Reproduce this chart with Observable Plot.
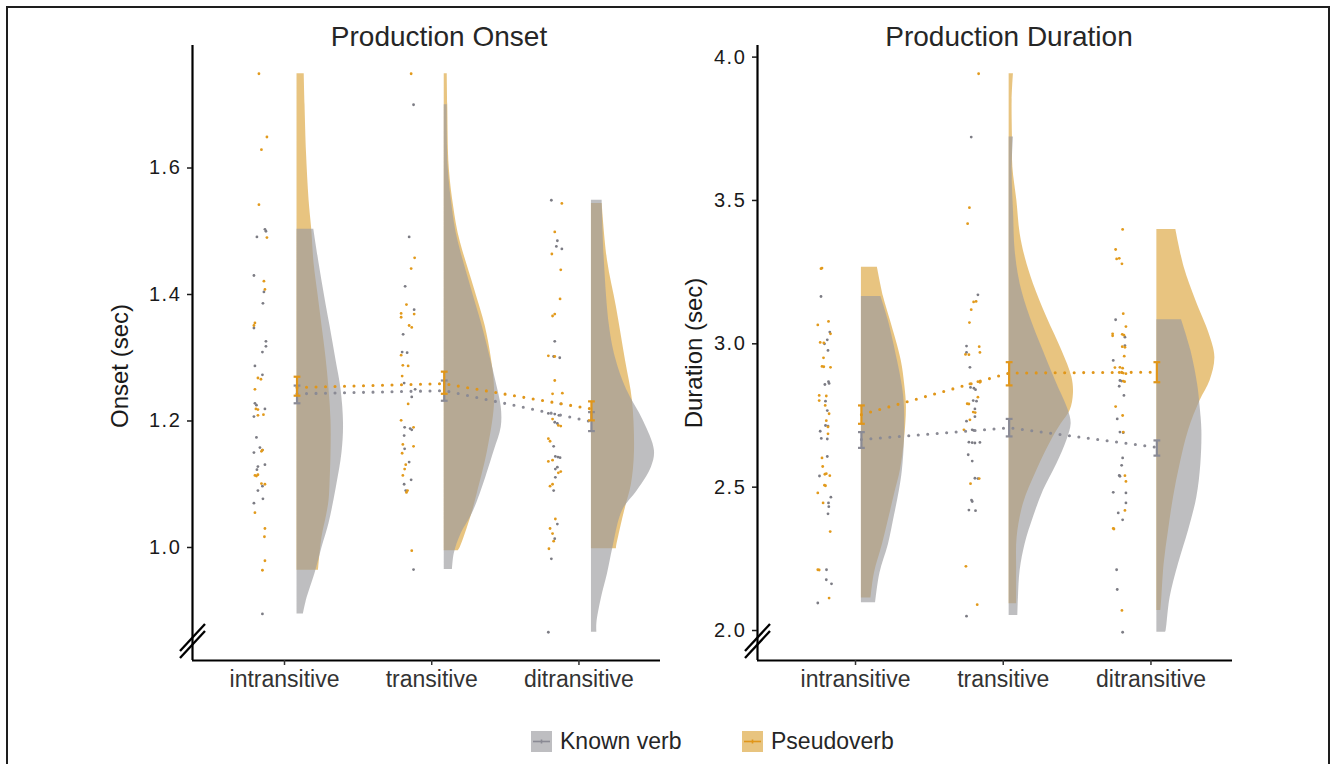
<!DOCTYPE html>
<html><head><meta charset="utf-8">
<script src="https://cdn.jsdelivr.net/npm/d3@7"></script>
<script src="https://cdn.jsdelivr.net/npm/@observablehq/plot@0.6"></script>
<style>
html,body{margin:0;padding:0;background:#fff;overflow:hidden;}
#fig{position:relative;width:1335px;height:764px;font-family:"Liberation Sans",Arial,Helvetica,sans-serif;overflow:hidden;}
#border{position:absolute;left:6px;top:6px;width:1324px;height:820px;border:2px solid #1e1e1e;box-sizing:border-box;}
.panel{position:absolute;top:0;}
.title{position:absolute;top:23px;width:400px;font-size:28px;line-height:28px;color:#262626;text-align:center;white-space:nowrap;}
.leg{position:absolute;top:729px;height:24px;display:flex;align-items:center;font-size:23px;color:#262626;white-space:nowrap;}
.leg svg{margin-right:8px;}
</style></head>
<body>
<div id="fig">
  <div id="border"></div>
  <div id="left" class="panel" style="left:0px"></div>
  <div id="right" class="panel" style="left:670px"></div>
  <div class="title" style="left:239px">Production Onset</div>
  <div class="title" style="left:809px">Production Duration</div>
  <div id="legend"></div>
</div>
<script>
// ---------- data ----------
const categories = ["intransitive", "transitive", "ditransitive"];
const groups = ["Known verb", "Pseudoverb"];

// jittered raw points: [category index, value, horizontal jitter]
const onsetKnownDots = [
  [0,1.503,5],[0,1.500,6],[0,1.491,-3],[0,1.430,-6],[0,1.404,4],[0,1.386,3],[0,1.347,-6],[0,1.326,6],[0,1.318,6],[0,1.309,2.5],[0,1.287,-5],[0,1.273,2.5],[0,1.228,-5],[0,1.225,-3.5],[0,1.219,5],[0,1.207,-6],[0,1.174,-3.5],[0,1.158,0],[0,1.154,2.5],[0,1.150,-6],[0,1.131,5],[0,1.128,-2],[0,1.123,-3],[0,1.097,2.5],[0,1.090,-2],[0,1.077,3],[0,1.070,-6],[0,0.895,2.5],
  [1,1.700,6.4],[1,1.491,2],[1,1.413,-2],[1,1.376,7],[1,1.337,-4],[1,1.309,-5],[1,1.308,0],[1,1.260,-3],[1,1.250,8],[1,1.238,4.6],[1,1.190,-2.5],[1,1.188,3],[1,1.186,4.6],[1,1.177,-3],[1,1.156,-2.5],[1,1.135,2],[1,1.107,4],[1,1.100,-3],[1,1.090,-1.4],[1,0.965,6.4],
  [2,1.549,-3],[2,1.485,3],[2,1.476,2],[2,1.472,7.5],[2,1.326,0.4],[2,1.302,-0.7],[2,1.300,5.4],[2,1.227,6.4],[2,1.212,-6],[2,1.211,0.4],[2,1.209,4.6],[2,1.198,0.4],[2,1.196,3],[2,1.160,-0.7],[2,1.144,1],[2,1.143,3.6],[2,1.142,5.7],[2,1.127,3],[2,1.124,1],[2,1.111,1],[2,1.090,-0.7],[2,1.037,3],[2,1.014,0.4],[2,0.982,-3],[2,0.866,-6]
];
const onsetPseudoDots = [
  [0,1.749,-1],[0,1.649,7],[0,1.629,1.5],[0,1.542,-1],[0,1.490,7],[0,1.421,4],[0,1.408,5],[0,1.355,-5],[0,1.351,-6],[0,1.268,-2],[0,1.266,1],[0,1.250,-5],[0,1.219,-4],[0,1.218,-2],[0,1.210,3.5],[0,1.209,-2],[0,1.154,2.5],[0,1.152,1.5],[0,1.114,-5],[0,1.115,-2],[0,1.113,-3.5],[0,1.101,1.5],[0,1.100,5],[0,1.055,-5],[0,1.030,5],[0,1.017,4.5],[0,0.979,5],[0,0.964,2.5],
  [1,1.749,4],[1,1.458,7.5],[1,1.441,4],[1,1.384,-0.7],[1,1.370,-6],[1,1.369,7],[1,1.364,-6],[1,1.351,2],[1,1.348,4.6],[1,1.304,-6],[1,1.288,-4.3],[1,1.287,1],[1,1.271,-5],[1,1.227,1],[1,1.201,-6],[1,1.190,6.4],[1,1.163,-4.3],[1,1.160,6.4],[1,1.149,-5],[1,1.131,-1.4],[1,1.124,-2.5],[1,1.114,-4.3],[1,1.090,0.4],[1,1.087,-0.7],[1,0.995,4.6],
  [2,1.544,7.5],[2,1.499,0.4],[2,1.464,-2.5],[2,1.439,6.4],[2,1.393,5.7],[2,1.369,0.4],[2,1.366,-1.8],[2,1.303,-6],[2,1.302,0.4],[2,1.264,0.4],[2,1.243,-1.8],[2,1.244,8],[2,1.203,-1.8],[2,1.193,4],[2,1.192,6.4],[2,1.172,-6],[2,1.168,-4.3],[2,1.138,-1.8],[2,1.136,-6],[2,1.120,6.4],[2,1.118,4],[2,1.100,-1.8],[2,1.097,-4.3],[2,1.045,1],[2,1.030,-4.3],[2,1.022,-1.8],[2,1.010,-0.7],[2,0.998,-5.4]
];
const durKnownDots = [
  [0,3.165,-3.5],[0,3.041,5.3],[0,3.014,2.8],[0,3.000,0],[0,2.977,3.5],[0,2.868,4],[0,2.862,4.6],[0,2.858,0.4],[0,2.800,1],[0,2.767,2.8],[0,2.715,1],[0,2.713,3.5],[0,2.695,-4.3],[0,2.670,-3.2],[0,2.668,2.8],[0,2.607,2.8],[0,2.539,-5],[0,2.465,6.4],[0,2.445,4],[0,2.432,4.3],[0,2.407,3.5],[0,2.212,2],[0,2.177,1.8],[0,2.163,7],[0,2.096,-6.7],
  [1,3.721,-1],[1,3.171,5.7],[1,2.992,-5.7],[1,2.970,-5.7],[1,2.918,-2.3],[1,2.848,-1.7],[1,2.845,1.7],[1,2.840,3.3],[1,2.802,1],[1,2.800,4.3],[1,2.773,2.7],[1,2.746,2.7],[1,2.730,-5.7],[1,2.700,0],[1,2.698,1.7],[1,2.657,-3.3],[1,2.655,0],[1,2.654,2.7],[1,2.656,7.7],[1,2.613,-4],[1,2.591,0],[1,2.531,2.7],[1,2.530,5.7],[1,2.455,-0.7],[1,2.450,0],[1,2.420,-3.3],[1,2.418,3.3],[1,2.050,-5.7],
  [2,3.084,-4.3],[2,3.023,5],[2,2.994,5],[2,2.942,-6.7],[2,2.872,0],[2,2.870,1.7],[2,2.852,-0.7],[2,2.820,4],[2,2.738,-2.7],[2,2.692,0],[2,2.690,3.3],[2,2.602,2.7],[2,2.576,1.7],[2,2.541,-0.7],[2,2.538,0],[2,2.482,-6.7],[2,2.480,6],[2,2.445,6],[2,2.410,-1.7],[2,2.386,2.7],[2,2.212,-3.3],[2,2.143,-2.7],[2,1.994,2.7]
];
const durPseudoDots = [
  [0,3.264,-2.5],[0,3.262,-3.5],[0,3.078,4],[0,3.066,-6.7],[0,3.035,6],[0,3.005,-4.3],[0,3.003,-0.7],[0,2.951,-1],[0,2.921,-2.5],[0,2.920,-0.7],[0,2.918,6],[0,2.820,-5.3],[0,2.818,1.8],[0,2.802,-5.3],[0,2.785,0.7],[0,2.756,4.6],[0,2.732,1.8],[0,2.710,3.5],[0,2.686,3.5],[0,2.602,-2.5],[0,2.572,-1.8],[0,2.547,1.8],[0,2.545,0.4],[0,2.540,5.3],[0,2.507,0],[0,2.505,1],[0,2.480,-6.7],[0,2.445,-1.4],[0,2.345,5.7],[0,2.212,-6.7],[0,2.211,-5.3],[0,2.113,4.6],
  [1,3.942,6.4],[1,3.475,-2.8],[1,3.419,-4.6],[1,3.148,3.9],[1,3.146,1.4],[1,3.119,-1],[1,3.074,-2.8],[1,2.990,7],[1,2.963,-6.7],[1,2.962,-3.3],[1,2.970,7.7],[1,2.868,5.7],[1,2.866,7.7],[1,2.860,-2.3],[1,2.814,5.7],[1,2.791,-5],[1,2.790,-3.3],[1,2.762,1],[1,2.760,3],[1,2.735,-2.3],[1,2.700,-8.3],[1,2.530,7],[1,2.512,-1.7],[1,2.224,-6.3],[1,2.090,5],
  [2,3.399,2.7],[2,3.329,-4.3],[2,3.298,-0.7],[2,3.296,-3.3],[2,3.279,2],[2,3.105,3.3],[2,3.060,6],[2,3.035,-7.3],[2,3.033,2.3],[2,3.030,4],[2,3.028,-7.3],[2,2.990,2.3],[2,2.988,5],[2,2.957,4.3],[2,2.917,-5],[2,2.918,0],[2,2.915,2.7],[2,2.900,-0.7],[2,2.898,3.3],[2,2.896,6],[2,2.870,3.3],[2,2.868,4.7],[2,2.781,-4.3],[2,2.750,2.7],[2,2.692,3.3],[2,2.540,5],[2,2.520,6],[2,2.419,5],[2,2.356,-6.7],[2,2.354,-6],[2,2.070,2]
];

// half-violin density profiles: [category index, value, density]
const onsetKnownCloud = [
  [0,1.503,16.8],[0,1.45,22],[0,1.398,27.5],[0,1.35,33],[0,1.296,39],[0,1.25,44],[0,1.196,46.5],[0,1.15,45],[0,1.095,39.3],[0,1.038,32],[0,1.0,25],[0,0.959,18],[0,0.92,10],[0,0.895,6.4],
  [1,1.700,3],[1,1.60,4],[1,1.538,8],[1,1.49,13],[1,1.41,27],[1,1.35,38],[1,1.30,46],[1,1.26,52],[1,1.222,57],[1,1.19,57],[1,1.153,50],[1,1.085,36],[1,1.05,27],[1,1.022,17],[1,0.99,10],[1,0.965,8.2],
  [2,1.549,10.7],[2,1.45,13],[2,1.35,18],[2,1.30,24],[2,1.25,35],[2,1.20,52],[2,1.153,63],[2,1.127,60],[2,1.09,46],[2,1.058,31],[2,1.0,21.5],[2,0.958,16],[2,0.92,10],[2,0.88,5.4],[2,0.866,5.4]
];
const onsetPseudoCloud = [
  [0,1.749,7.2],[0,1.70,8],[0,1.623,9.5],[0,1.55,12],[0,1.503,14.7],[0,1.45,17],[0,1.40,21],[0,1.35,25],[0,1.30,29],[0,1.25,32],[0,1.20,34],[0,1.15,34],[0,1.10,33],[0,1.074,32],[0,1.05,29.5],[0,1.016,25],[0,0.964,21.5],
  [1,1.749,3],[1,1.70,3.5],[1,1.60,5],[1,1.538,9.5],[1,1.49,15],[1,1.41,30],[1,1.35,41],[1,1.30,47],[1,1.26,50],[1,1.22,50],[1,1.15,43],[1,1.085,33],[1,1.05,27],[1,1.0,16],[1,0.995,14],
  [2,1.544,10.7],[2,1.454,16],[2,1.38,25],[2,1.296,34],[2,1.232,41],[2,1.15,43],[2,1.10,40],[2,1.063,34],[2,1.03,29],[2,1.0,25],[2,0.998,25]
];
const durKnownCloud = [
  [0,3.165,19.5],[0,3.08,27],[0,2.942,36],[0,2.85,41],[0,2.78,43],[0,2.663,43],[0,2.56,41],[0,2.488,38],[0,2.40,33],[0,2.30,27],[0,2.20,18.5],[0,2.097,14.2],
  [1,3.721,4.3],[1,3.6,3],[1,3.45,4.5],[1,3.325,6],[1,3.209,11],[1,3.093,21],[1,2.977,34],[1,2.861,47.7],[1,2.77,59],[1,2.721,62],[1,2.663,57.7],[1,2.581,47.7],[1,2.488,34.3],[1,2.395,24.3],[1,2.302,16],[1,2.209,11],[1,2.116,9.3],[1,2.052,8.7],
  [2,3.084,24.7],[2,2.977,34],[2,2.86,40.7],[2,2.779,43.3],[2,2.698,45],[2,2.581,44],[2,2.465,40],[2,2.349,31.7],[2,2.233,21.7],[2,2.116,13.3],[2,2.0,9.3],[2,1.994,8.7]
];
const durPseudoCloud = [
  [0,3.267,16],[0,3.165,22],[0,3.081,29],[0,2.942,39.8],[0,2.85,43.5],[0,2.779,45],[0,2.663,43],[0,2.56,39],[0,2.488,34],[0,2.40,28],[0,2.30,21],[0,2.20,13],[0,2.113,9.6],
  [1,3.942,4.3],[1,3.85,3],[1,3.721,3.3],[1,3.616,3.7],[1,3.5,7.7],[1,3.384,11],[1,3.302,16],[1,3.209,24.3],[1,3.093,37.7],[1,2.977,52.7],[1,2.884,62.7],[1,2.826,64.3],[1,2.767,61],[1,2.72,52],[1,2.674,44],[1,2.558,27.7],[1,2.442,14.3],[1,2.325,8],[1,2.209,7.5],[1,2.093,7.5],
  [2,3.399,19],[2,3.267,27.3],[2,3.151,39],[2,3.035,52.3],[2,2.953,58],[2,2.872,53.3],[2,2.802,43.3],[2,2.698,31.7],[2,2.581,23.3],[2,2.465,16.7],[2,2.349,11.7],[2,2.233,7.3],[2,2.116,5],[2,2.07,4]
];

// means and error bars per category
const onsetKnownMean = [1.243, 1.248, 1.199];
const onsetKnownLo   = [1.228, 1.232, 1.184];
const onsetKnownHi   = [1.256, 1.264, 1.214];
const onsetPseudoMean = [1.253, 1.259, 1.219];
const onsetPseudoLo   = [1.240, 1.243, 1.201];
const onsetPseudoHi   = [1.270, 1.278, 1.231];
const durKnownMean = [2.666, 2.707, 2.639];
const durKnownLo   = [2.637, 2.677, 2.610];
const durKnownHi   = [2.692, 2.738, 2.663];
const durPseudoMean = [2.753, 2.898, 2.901];
const durPseudoLo   = [2.721, 2.855, 2.866];
const durPseudoHi   = [2.785, 2.936, 2.936];

const onsetTicks = [1.0, 1.2, 1.4, 1.6];
const durTicks = [2.0, 2.5, 3.0, 3.5, 4.0];

// ---------- styling ----------
const C = {
  knownFill: "#9b9b9e", knownOpacity: 0.65,
  pseudoFill: "#d18901", pseudoOpacity: 0.5,
  knownDot: "#7c7c84", pseudoDot: "#e29a1c",
  knownLine: "#8a8a94", pseudoLine: "#e0961a"
};

function panel(o) {
  const innerW = o.width - o.marginLeft - o.marginRight;
  const ppu = innerW / (o.xDomain[1] - o.xDomain[0]);   // pixels per category unit
  const clouds = (arr) => arr.map(([cat, v, w]) => ({cat, v, w}));
  const dots = (arr) => arr.map(([cat, v, j]) => ({cat, v, j}));
  const means = (m, lo, hi) => m.map((v, i) => ({cat: i, v, lo: lo[i], hi: hi[i]}));
  const cap = 3.4 / ppu;
  const bx = d => d.cat + o.base;
  const breakMark = (index, scales, values, dims) => {
    const x0 = dims.marginLeft, y0 = dims.height - dims.marginBottom;
    const g = d3.create("svg:g").attr("stroke", "#000").attr("stroke-width", 2.3).attr("fill", "none");
    for (const off of [0, 7]) {
      g.append("line").attr("x1", x0 - 12).attr("y1", y0 - 2 - off).attr("x2", x0 + 13).attr("y2", y0 - 29 - off);
    }
    return g.node();
  };
  const knownM = means(o.kMean, o.kLo, o.kHi);
  const pseudoM = means(o.pMean, o.pLo, o.pHi);
  const errMarks = (M, color) => [
    Plot.ruleX(M, {x: bx, y1: "lo", y2: "hi", stroke: color, strokeWidth: 2.2}),
    Plot.link(M, {x1: d => bx(d) - cap, x2: d => bx(d) + cap, y1: "hi", y2: "hi", stroke: color, strokeWidth: 2.2}),
    Plot.link(M, {x1: d => bx(d) - cap, x2: d => bx(d) + cap, y1: "lo", y2: "lo", stroke: color, strokeWidth: 2.2})
  ];
  const svg = Plot.plot({
    width: o.width, height: 700,
    marginLeft: o.marginLeft, marginRight: o.marginRight, marginTop: 45, marginBottom: 40,
    style: {fontFamily: "Liberation Sans, Arial, sans-serif", background: "transparent", overflow: "visible"},
    x: {type: "linear", domain: o.xDomain},
    y: {type: "linear", domain: o.yDomain},
    marks: [
      Plot.areaX(clouds(o.pCloud), {y: "v", x1: bx, x2: d => bx(d) + d.w / ppu, z: "cat", fill: C.pseudoFill, fillOpacity: C.pseudoOpacity, curve: "catmull-rom"}),
      Plot.areaX(clouds(o.kCloud), {y: "v", x1: bx, x2: d => bx(d) + d.w / ppu, z: "cat", fill: C.knownFill, fillOpacity: C.knownOpacity, curve: "catmull-rom"}),
      Plot.dot(dots(o.kDots), {x: d => d.cat + o.dotOff + d.j / ppu, y: "v", r: 1.4, fill: C.knownDot, stroke: "none"}),
      Plot.dot(dots(o.pDots), {x: d => d.cat + o.dotOff + d.j / ppu, y: "v", r: 1.4, fill: C.pseudoDot, stroke: "none"}),
      Plot.line(knownM, {x: bx, y: "v", stroke: C.knownLine, strokeWidth: 3.1, strokeDasharray: "0 9.5", strokeLinecap: "round"}),
      Plot.line(pseudoM, {x: bx, y: "v", stroke: C.pseudoLine, strokeWidth: 3.1, strokeDasharray: "0 9.5", strokeLinecap: "round"}),
      ...errMarks(knownM, C.knownLine),
      ...errMarks(pseudoM, C.pseudoLine),
      Plot.ruleX([o.xDomain[0]], {stroke: "#000", strokeWidth: 2.2}),
      Plot.ruleY([o.yDomain[0]], {stroke: "#000", strokeWidth: 2.2}),
      Plot.axisX({ticks: [0, 1, 2], tickFormat: i => categories[i], tickSize: 5, tickPadding: 5, fontSize: 23, label: null, color: "#333", strokeWidth: 1.5}),
      Plot.axisY({ticks: o.yTicks, tickFormat: d3.format(".1f"), tickSize: 5, tickPadding: 6, fontSize: 20, label: null, color: "#1a1a1a", strokeWidth: 1.5}),
      Plot.text([o.yLabel], {frameAnchor: "left", rotate: -90, dx: o.labelDx, dy: o.labelDy, fontSize: 24, fill: "#1a1a1a", textAnchor: "middle"}),
      breakMark
    ]
  });
  d3.select(svg).selectAll('g[aria-label="y-axis tick label"] text').attr("letter-spacing", "1.6px");
  return svg;
}

document.getElementById("left").append(panel({
  width: 670, marginLeft: 192, marginRight: 10,
  xDomain: [-0.625, 2.554], yDomain: [0.8213, 1.7937], yTicks: onsetTicks,
  base: 0.085, dotOff: -0.167,
  kDots: onsetKnownDots, pDots: onsetPseudoDots,
  kCloud: onsetKnownCloud, pCloud: onsetPseudoCloud,
  kMean: onsetKnownMean, kLo: onsetKnownLo, kHi: onsetKnownHi,
  pMean: onsetPseudoMean, pLo: onsetPseudoLo, pHi: onsetPseudoHi,
  yLabel: "Onset (sec)", labelDx: -72, labelDy: 13
}));
document.getElementById("right").append(panel({
  width: 665, marginLeft: 87, marginRight: 103,
  xDomain: [-0.6635, 2.552], yDomain: [1.8954, 4.0405], yTicks: durTicks,
  base: 0.04, dotOff: -0.21,
  kDots: durKnownDots, pDots: durPseudoDots,
  kCloud: durKnownCloud, pCloud: durPseudoCloud,
  kMean: durKnownMean, kLo: durKnownLo, kHi: durKnownHi,
  pMean: durPseudoMean, pLo: durPseudoLo, pHi: durPseudoHi,
  yLabel: "Duration (sec)", labelDx: -63, labelDy: 0
}));

// ---------- legend ----------
const legendItems = [
  {label: groups[0], fill: "#bebec1", line: C.knownLine, left: 531},
  {label: groups[1], fill: "#e8c47f", line: C.pseudoLine, left: 742}
];
const legend = d3.select("#legend");
for (const it of legendItems) {
  const row = legend.append("div").attr("class", "leg").style("left", it.left + "px");
  const s = row.append("svg").attr("width", 21).attr("height", 21);
  s.append("rect").attr("width", 21).attr("height", 21).attr("fill", it.fill);
  s.append("line").attr("x1", 2).attr("x2", 19).attr("y1", 10.5).attr("y2", 10.5).attr("stroke", it.line).attr("stroke-width", 1.6);
  s.append("line").attr("x1", 10.5).attr("x2", 10.5).attr("y1", 8.5).attr("y2", 12.5).attr("stroke", it.line).attr("stroke-width", 1.6);
  row.append("span").text(it.label);
}
</script>
</body></html>
